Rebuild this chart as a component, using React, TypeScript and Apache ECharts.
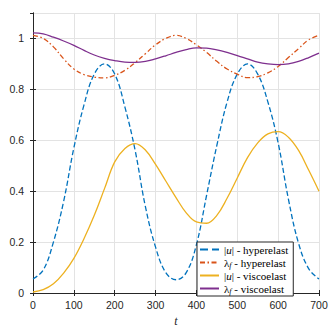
import React, { useEffect, useRef } from "react";
import * as echarts from "echarts";

const tValues = [0, 25, 50, 75, 100, 125, 150, 175, 200, 225, 250, 275, 300, 325, 350, 375, 400, 425, 450, 475, 500, 525, 550, 575, 600, 625, 650, 675, 700];

const uHyper = [0.055, 0.09, 0.2, 0.36, 0.57, 0.74, 0.86, 0.9, 0.86, 0.73, 0.56, 0.34, 0.18, 0.08, 0.052, 0.08, 0.19, 0.385, 0.58, 0.75, 0.86, 0.9, 0.86, 0.75, 0.59, 0.37, 0.195, 0.095, 0.055];
const lamHyper = [1.012, 1.0, 0.967, 0.92, 0.88, 0.858, 0.848, 0.845, 0.855, 0.875, 0.905, 0.94, 0.975, 1.0, 1.012, 1.0, 0.975, 0.945, 0.91, 0.88, 0.86, 0.846, 0.85, 0.865, 0.89, 0.925, 0.96, 0.995, 1.012];
const uVisco = [0.004, 0.013, 0.036, 0.078, 0.136, 0.214, 0.305, 0.41, 0.515, 0.568, 0.587, 0.562, 0.505, 0.44, 0.375, 0.315, 0.279, 0.274, 0.305, 0.372, 0.452, 0.532, 0.59, 0.625, 0.634, 0.612, 0.56, 0.482, 0.4];
const lamVisco = [1.022, 1.018, 1.005, 0.99, 0.973, 0.953, 0.935, 0.922, 0.913, 0.907, 0.906, 0.91, 0.92, 0.932, 0.945, 0.956, 0.963, 0.962, 0.955, 0.945, 0.933, 0.92, 0.907, 0.9, 0.897, 0.9, 0.91, 0.925, 0.942];

const seriesNames = ["|u| - hyperelast", "λf - hyperelast", "|u| - viscoelast", "λf - viscoelast"];
const legendLabels = [
  "|{i|u}| - hyperelast",
  "{l|λ}{sub|f} - hyperelast",
  "|{i|u}| - viscoelast",
  "{l|λ}{sub|f} - viscoelast",
];
const colors = ["#0072BD", "#D95319", "#EDB120", "#7E2F8E"];

const AXIS = "#262626";
const GRIDC = "#e3e3e3";
const SANS = "Liberation Sans";
const SERIF = "Liberation Serif";

export default function App() {
  const ref = useRef<HTMLDivElement>(null);
  useEffect(() => {
    if (!ref.current) return;
    const chart = echarts.init(ref.current, undefined, { renderer: "svg" });
    const mk = (arr: number[]) => tValues.map((t, i) => [t, arr[i]]);
    const lineTypes: any[] = ["dashed", [5, 2.5, 1.5, 2.5], "solid", "solid"];
    const dataSets = [uHyper, lamHyper, uVisco, lamVisco];
    const axisCommon = {
      axisLine: { show: true, lineStyle: { color: AXIS, width: 1 } },
      axisTick: { show: true, inside: true, length: 3, lineStyle: { color: AXIS } },
    };
    chart.setOption({
      animation: false,
      backgroundColor: "#fff",
      grid: { left: 33, right: 13, top: 13, bottom: 35, containLabel: false },
      legend: {
        data: seriesNames,
        orient: "vertical",
        left: 197,
        top: 242,
        itemWidth: 19,
        itemHeight: 10,
        itemGap: 0,
        padding: [1, 5, 1, 2],
        borderColor: AXIS,
        borderWidth: 1,
        backgroundColor: "#fff",
        itemStyle: { opacity: 0 },
        formatter: (name: string) => legendLabels[seriesNames.indexOf(name)],
        textStyle: {
          fontFamily: SERIF,
          fontSize: 11,
          color: "#000",
          lineHeight: 13,
          rich: {
            i: { fontFamily: SERIF, fontSize: 11, fontStyle: "italic", color: "#000", lineHeight: 13 },
            l: { fontFamily: SERIF, fontSize: 11, color: "#000", lineHeight: 13 },
            sub: { fontFamily: SERIF, fontSize: 8, fontStyle: "italic", color: "#000", lineHeight: 6, verticalAlign: "bottom" },
          },
        },
      },
      xAxis: [
        {
          type: "value",
          position: "bottom",
          min: 0,
          max: 700,
          interval: 100,
          ...axisCommon,
          axisLabel: { color: AXIS, fontFamily: SANS, fontSize: 10.5, margin: 6 },
          splitLine: { show: true, lineStyle: { color: GRIDC, width: 1 } },
          name: "t",
          nameLocation: "middle",
          nameGap: 22,
          nameTextStyle: { fontFamily: SERIF, fontStyle: "italic", fontSize: 12, color: AXIS },
        },
        {
          type: "value",
          position: "top",
          min: 0,
          max: 700,
          interval: 100,
          ...axisCommon,
          axisLabel: { show: false },
          splitLine: { show: false },
        },
      ],
      yAxis: [
        {
          type: "value",
          position: "left",
          min: 0,
          max: 1.1,
          interval: 0.2,
          ...axisCommon,
          axisLabel: { color: AXIS, fontFamily: SANS, fontSize: 10.5, margin: 9, showMaxLabel: false },
          splitLine: { show: true, lineStyle: { color: GRIDC, width: 1 } },
        },
        {
          type: "value",
          position: "right",
          min: 0,
          max: 1.1,
          interval: 0.2,
          ...axisCommon,
          axisLabel: { show: false },
          splitLine: { show: false },
        },
      ],
      series: seriesNames.map((name, k) => ({
        name,
        type: "line",
        xAxisIndex: 0,
        yAxisIndex: 0,
        data: mk(dataSets[k]),
        symbol: "none",
        showSymbol: false,
        smooth: 0.4,
        color: colors[k],
        lineStyle: { color: colors[k], width: 1.3, type: lineTypes[k] },
        z: k === 3 ? 3 : 2,
      })),
    });
    return () => chart.dispose();
  }, []);
  return <div ref={ref} style={{ position: "fixed", left: 0, top: 0, width: 332, height: 332 }} />;
}
